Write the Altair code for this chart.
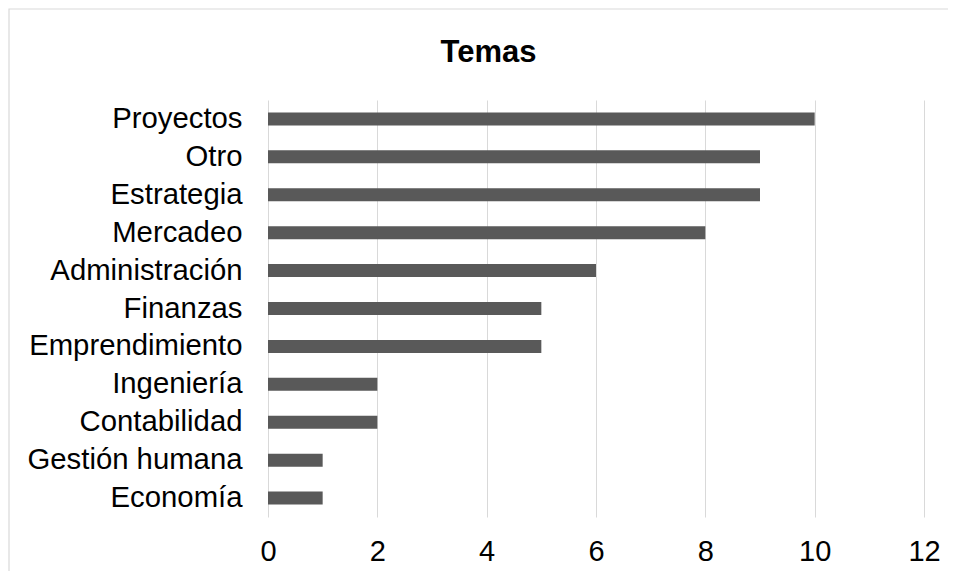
import altair as alt
import pandas as pd

categories = ["Proyectos", "Otro", "Estrategia", "Mercadeo", "Administración",
              "Finanzas", "Emprendimiento", "Ingeniería", "Contabilidad",
              "Gestión humana", "Economía"]
values = [10, 9, 9, 8, 6, 5, 5, 2, 2, 1, 1]
x_ticks = [0, 2, 4, 6, 8, 10, 12]
title_text = ["Temas"]

df = pd.DataFrame({"tema": categories, "n": values})
FONT = "Liberation Sans"

bars = alt.Chart(df).mark_bar(color="#595959").encode(
    x=alt.X("n:Q", scale=alt.Scale(domain=[0, 12], nice=False),
            axis=alt.Axis(values=x_ticks, title=None, grid=True, gridColor="#d9d9d9",
                          gridWidth=1, domain=False, ticks=False, labelFontSize=29,
                          labelFont=FONT, labelColor="#000000", labelPadding=20,
                          labelFlush=False)),
    y=alt.Y("tema:N", sort=categories,
            scale=alt.Scale(paddingInner=0.657, paddingOuter=0.3285),
            axis=alt.Axis(title=None, domain=False, ticks=False, grid=False,
                          labelFontSize=29.3, labelFont=FONT, labelColor="#000000",
                          labelPadding=26, labelLimit=400)),
)

border = alt.Chart(pd.DataFrame({"a": [0]})).mark_rect(
    fill="white", fillOpacity=0, stroke="#d9d9d9", strokeWidth=1.2
).encode(
    x=alt.value(-259), x2=alt.value(720), y=alt.value(-91), y2=alt.value(520)
)

title = alt.Chart(pd.DataFrame({"t": title_text})).mark_text(
    font=FONT, fontSize=31, fontWeight="bold", color="#000000",
    align="center", baseline="alphabetic"
).encode(text="t:N", x=alt.value(220.5), y=alt.value(-38))

chart = alt.layer(bars, border, title).properties(
    width=656, height=417,
    autosize=alt.AutoSizeParams(type="none"),
    padding={"left": 260, "top": 92, "right": 24, "bottom": 54},
).configure_view(stroke=None)

chart.save("out.html", embed_options={"renderer": "svg", "actions": False})
